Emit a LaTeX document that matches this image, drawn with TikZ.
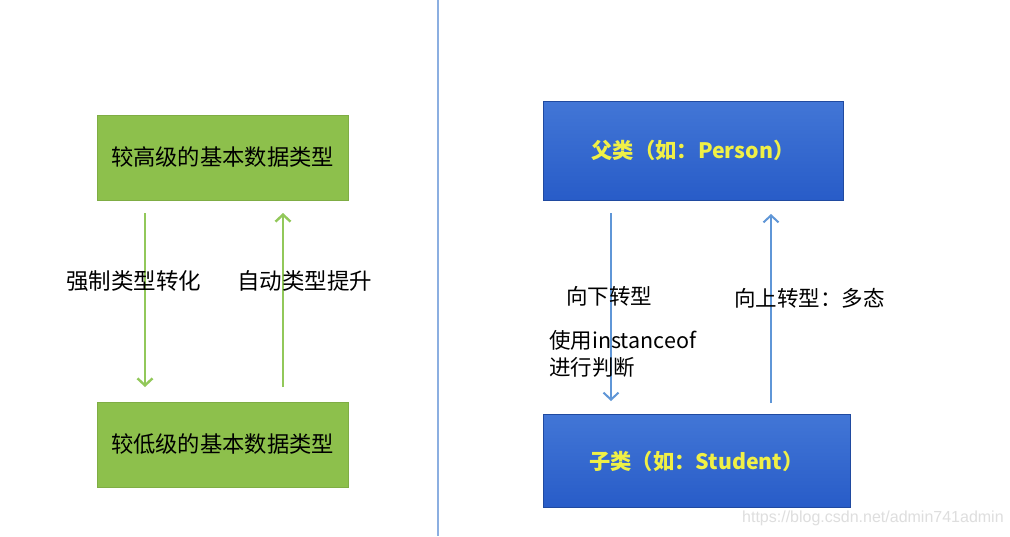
\documentclass[tikz,border=0pt]{standalone}
\usepackage{fontspec}
\newfontfamily\cjk{Noto Sans CJK SC}
\newfontfamily\wm{Liberation Sans}
\usetikzlibrary{arrows.meta,shadings}
\definecolor{gfill}{RGB}{141,192,76}
\definecolor{garr}{RGB}{146,200,90}
\definecolor{btop}{RGB}{66,118,214}
\definecolor{bbot}{RGB}{40,92,200}
\definecolor{barr}{RGB}{95,150,215}
\definecolor{ytext}{RGB}{240,240,70}
\definecolor{divider}{RGB}{140,175,225}
\begin{document}
\begin{tikzpicture}[x=1pt,y=-1pt,
  gbox/.style={rectangle,fill=gfill,draw=gfill!90!black,line width=0.6pt,minimum width=251pt,minimum height=85pt,inner sep=0pt,font=\cjk\fontsize{22.3}{24}\selectfont},
  bbox/.style={rectangle,top color=btop,bottom color=bbot,draw=bbot!80!black,line width=0.6pt,inner sep=0pt,text=ytext,font=\cjk\bfseries\fontsize{21.3}{24}\selectfont},
  garrow/.style={draw=garr,line width=2.6pt,-{Straight Barb[length=7pt,width=15pt,line width=2.4pt]}},
  barrow/.style={draw=barr,line width=2pt,-{Straight Barb[length=7pt,width=15pt,line width=2pt]}},
  lbl/.style={font=\cjk\fontsize{22.5}{24}\selectfont,inner sep=0pt,anchor=west},
  rlbl/.style={font=\cjk\fontsize{21.5}{27}\selectfont,inner sep=0pt,anchor=west,align=left}]
\useasboundingbox (0,0) rectangle (1010,536);
\fill[white] (0,0) rectangle (1010,536);
% divider
\coordinate (dtop) at (438,0);
\coordinate (dbot) at (438,536);
\draw[divider,line width=1.2pt] (dtop) -- (dbot);
% left side
\node[gbox] (ghi) at (222.5,157.5) {较高级的基本数据类型};
\node[gbox] (glo) at (222.5,444.5) {较低级的基本数据类型};
\coordinate (gd1) at (145,213);
\coordinate (gd2) at (145,387);
\coordinate (gu1) at (283,387);
\coordinate (gu2) at (283,213);
\draw[garrow] (gd1) -- (gd2);
\draw[garrow] (gu1) -- (gu2);
\node[lbl] (l1) at (66,281) {强制类型转化};
\node[lbl] (l2) at (237,281) {自动类型提升};
% right side
\node[bbox,minimum width=300pt,minimum height=99pt] (par) at (693,150.5) {父类（如：Person）};
\node[bbox,minimum width=307pt,minimum height=93pt] (chi) at (696.5,461) {子类（如：Student）};
\coordinate (bd1) at (611,213);
\coordinate (bd2) at (611,401);
\coordinate (bu1) at (771,403);
\coordinate (bu2) at (771,214);
\draw[barrow] (bd1) -- (bd2);
\draw[barrow] (bu1) -- (bu2);
\node[rlbl] (r1) at (566,296) {向下转型};
\node[rlbl] (r2) at (549,354) {使用instanceof\\进行判断};
\node[rlbl] (r3) at (734,298) {向上转型：多态};
% watermark
\node[font=\wm\fontsize{16}{18}\selectfont,text=black!13,inner sep=0pt,anchor=west] (wmk) at (742,518) {https://blog.csdn.net/admin741admin};
\end{tikzpicture}
\end{document}
